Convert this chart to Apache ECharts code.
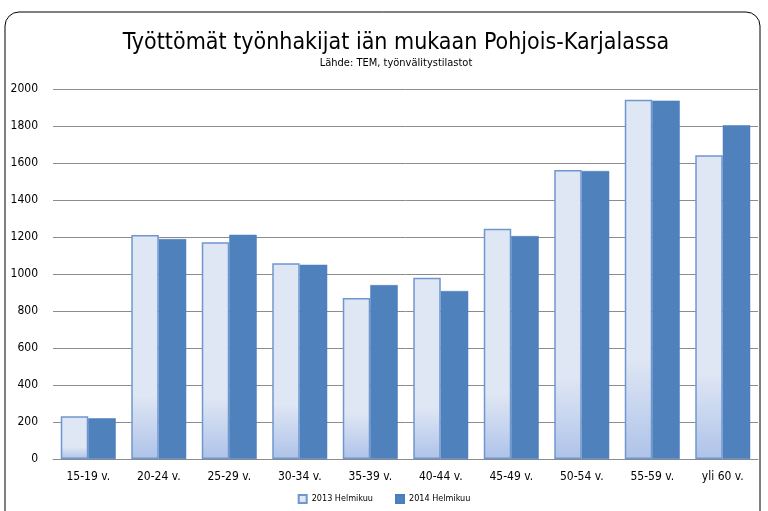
<!DOCTYPE html>
<html><head><meta charset="utf-8">
<script src="https://cdn.jsdelivr.net/npm/echarts@6/dist/echarts.min.js"></script>
<style>html,body{margin:0;padding:0;background:#fff}#c{width:768px;height:511px}</style>
</head><body><div id="c"></div>
<script>
const categories = ['15-19 v.','20-24 v.','25-29 v.','30-34 v.','35-39 v.','40-44 v.','45-49 v.','50-54 v.','55-59 v.','yli 60 v.'];
const values2013 = [231, 1211, 1171, 1058, 870, 980, 1245, 1562, 1942, 1642];
const values2014 = [220, 1189, 1212, 1050, 940, 908, 1205, 1557, 1937, 1804];
const seriesNames = ['2013 Helmikuu', '2014 Helmikuu'];
const yTicks = {min: 0, max: 2000, interval: 200};

const font = '"Liberation Sans Narrow", "DejaVu Sans Condensed", "Liberation Sans", sans-serif';
const chart = echarts.init(document.getElementById('c'));
chart.setOption({
  animation: false,
  textStyle: {fontFamily: font},
  graphic: [{
    type: 'rect', shape: {x: 5, y: 12, width: 755, height: 520, r: 14},
    style: {fill: 'none', stroke: '#000', lineWidth: 1}, z: -1
  }],
  title: {
    text: 'Työttömät työnhakijat iän mukaan Pohjois-Karjalassa',
    subtext: 'Lähde: TEM, työnvälitystilastot',
    left: 391, textAlign: 'center', top: 27, itemGap: 3,
    textStyle: {fontFamily: font, fontSize: 23, fontWeight: 'normal', color: '#000'},
    subtextStyle: {fontFamily: font, fontSize: 11, color: '#000'}
  },
  legend: {
    data: seriesNames, bottom: 2, left: 'center', itemWidth: 8, itemHeight: 8, itemGap: 22,
    textStyle: {fontFamily: font, fontSize: 9, color: '#000'}, icon: 'rect'
  },
  grid: {left: 53, right: 10, top: 89, bottom: 52, containLabel: false},
  xAxis: {
    type: 'category', data: categories,
    axisLine: {lineStyle: {color: '#8c8c8c', width: 1}},
    axisTick: {show: false},
    axisLabel: {color: '#000', fontSize: 12, margin: 12, fontFamily: font}
  },
  yAxis: {
    type: 'value', min: yTicks.min, max: yTicks.max, interval: yTicks.interval,
    axisLine: {show: false}, axisTick: {show: false},
    splitLine: {lineStyle: {color: '#8c8c8c', width: 1}},
    axisLabel: {color: '#000', fontSize: 12, margin: 15, fontFamily: font, formatter: v => String(v)}
  },
  series: [{
    name: seriesNames[0], type: 'bar', data: values2013, barGap: '0%', barCategoryGap: '22%',
    itemStyle: {
      color: new echarts.graphic.LinearGradient(0, 0, 0, 1, [
        {offset: 0, color: '#dfe6f4'}, {offset: 0.72, color: '#dfe6f4'}, {offset: 1, color: '#aec3e9'}]),
      borderColor: '#6f97cf', borderWidth: 1.5
    }
  }, {
    name: seriesNames[1], type: 'bar', data: values2014,
    itemStyle: {color: '#4f81bd', borderColor: '#4a7cc0', borderWidth: 0.5}
  }]
});
</script></body></html>
